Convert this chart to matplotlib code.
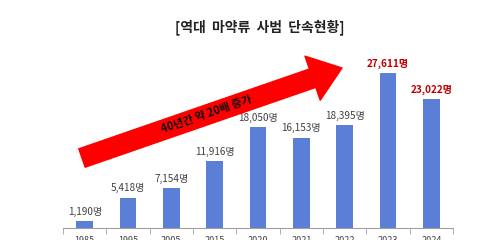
import numpy as np
import matplotlib
matplotlib.use('Agg')
import matplotlib.pyplot as plt

plt.rcParams['font.family'] = ['Noto Sans CJK KR', 'DejaVu Sans']

years = ['1985', '1995', '2005', '2015', '2020', '2021', '2022', '2023', '2024']
cases = [1190, 5418, 7154, 11916, 18050, 16153, 18395, 27611, 23022]
highlight = [False, False, False, False, False, False, False, True, True]

fig = plt.figure(figsize=(5, 2.4), dpi=100)
ax = fig.add_axes([0.126, 0.05, 0.78, 0.70])

x = np.arange(len(years))
ax.bar(x, cases, width=0.39, color='#5b7fd6', zorder=2)

for xi, v, hl in zip(x, cases, highlight):
    ax.annotate('{:,}명'.format(v), (xi, v), xytext=(0, 3), textcoords='offset points',
                ha='center', va='bottom', fontsize=7.2,
                color='#c00000' if hl else '#404040',
                fontweight='bold' if hl else 'normal')

ax.set_xlim(-0.5, len(years) - 0.5)
ax.set_ylim(0, 30000)
ax.set_xticks(x)
ax.set_xticklabels(years, fontsize=6.5, color='#404040')
ax.set_xticks(np.arange(-0.5, len(years)), minor=True)
ax.tick_params(axis='x', which='major', length=0, pad=6)
ax.tick_params(axis='x', which='minor', length=4, color='#a0a0a0')
ax.set_yticks([])
for s in ['top', 'right', 'left']:
    ax.spines[s].set_visible(False)
ax.spines['bottom'].set_color('#a0a0a0')

# title
fig.text(0.52, 0.885, '[역대  마약류  사범  단속현황]', ha='center', va='center',
         fontsize=10, fontweight='bold', color='#222222')

# red trend arrow
ax.annotate('', xy=(342, 240 - 68), xytext=(82, 240 - 158), xycoords='figure pixels',
            textcoords='figure pixels',
            arrowprops=dict(arrowstyle='simple,head_width=2.4,head_length=1.6,tail_width=1',
                            color='#ff0000', mutation_scale=14, shrinkA=0, shrinkB=0))
fig.text(207 / 500, 1 - 114 / 240, '40년간 약 20배 증가', ha='center', va='center',
         rotation=19, fontsize=8, fontweight='bold', color='#111111')

fig.savefig('out.png', dpi=100)
